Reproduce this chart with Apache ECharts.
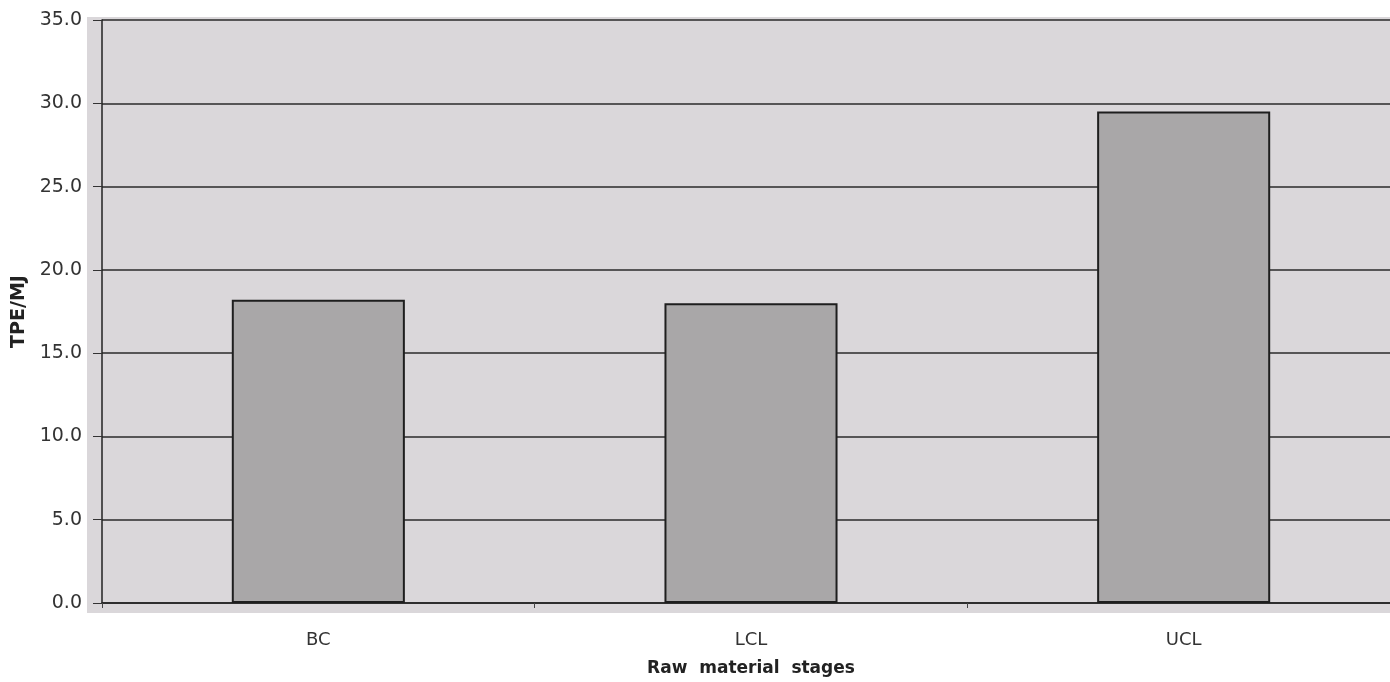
<!DOCTYPE html>
<html>
<head>
<meta charset="utf-8">
<script src="https://cdn.jsdelivr.net/npm/echarts@6/dist/echarts.min.js"></script>
<style>
  html, body { margin: 0; padding: 0; background: #ffffff; }
  #chart { width: 1390px; height: 682px; }
</style>
</head>
<body>
<div id="chart"></div>
<script>
// Raw material stages and their total primary energy per MJ
const categories = ['BC', 'LCL', 'UCL'];
const tpeValues = [18.2, 18.0, 29.5];
const yTicks = { min: 0, max: 35, interval: 5 };

const chart = echarts.init(document.getElementById('chart'));
const font = 'DejaVu Sans';

chart.setOption({
  animation: false,
  backgroundColor: '#ffffff',
  graphic: [{
    // light grey panel behind the plot area
    type: 'rect',
    z: -10,
    shape: { x: 87, y: 17, width: 1303, height: 596 },
    style: { fill: '#dad7da' }
  }],
  grid: {
    left: 102, top: 20, width: 1298, height: 583,
    containLabel: false, outerBoundsMode: 'none'
  },
  xAxis: {
    type: 'category',
    data: categories,
    name: 'Raw  material  stages',
    nameLocation: 'middle',
    nameGap: 57,
    nameTextStyle: { fontFamily: font, fontSize: 17, fontWeight: 'bold', color: '#222' },
    axisLine: { show: true, lineStyle: { color: '#222', width: 1.5 } },
    axisTick: { show: true, length: 5, lineStyle: { color: '#444' } },
    axisLabel: { fontFamily: font, fontSize: 18, color: '#333', margin: 28 },
    splitLine: { show: false }
  },
  yAxis: {
    type: 'value',
    min: yTicks.min,
    max: yTicks.max,
    interval: yTicks.interval,
    name: 'TPE/MJ',
    nameLocation: 'middle',
    nameGap: 72,
    nameRotate: 90,
    nameTextStyle: { fontFamily: font, fontSize: 19, fontWeight: 'bold', color: '#222' },
    axisLine: { show: true, lineStyle: { color: '#222', width: 1.5 } },
    axisTick: { show: true, inside: false, length: 9, lineStyle: { color: '#333' } },
    axisLabel: {
      fontFamily: font, fontSize: 19, color: '#333', margin: 20,
      formatter: v => v.toFixed(1)
    },
    splitLine: { show: true, lineStyle: { color: '#2a2a2a', width: 1.5 } }
  },
  series: [{
    type: 'bar',
    data: tpeValues,
    barWidth: '40%',
    itemStyle: { color: '#a9a7a8', borderColor: '#1e1e1e', borderWidth: 2 }
  }]
});
</script>
</body>
</html>
